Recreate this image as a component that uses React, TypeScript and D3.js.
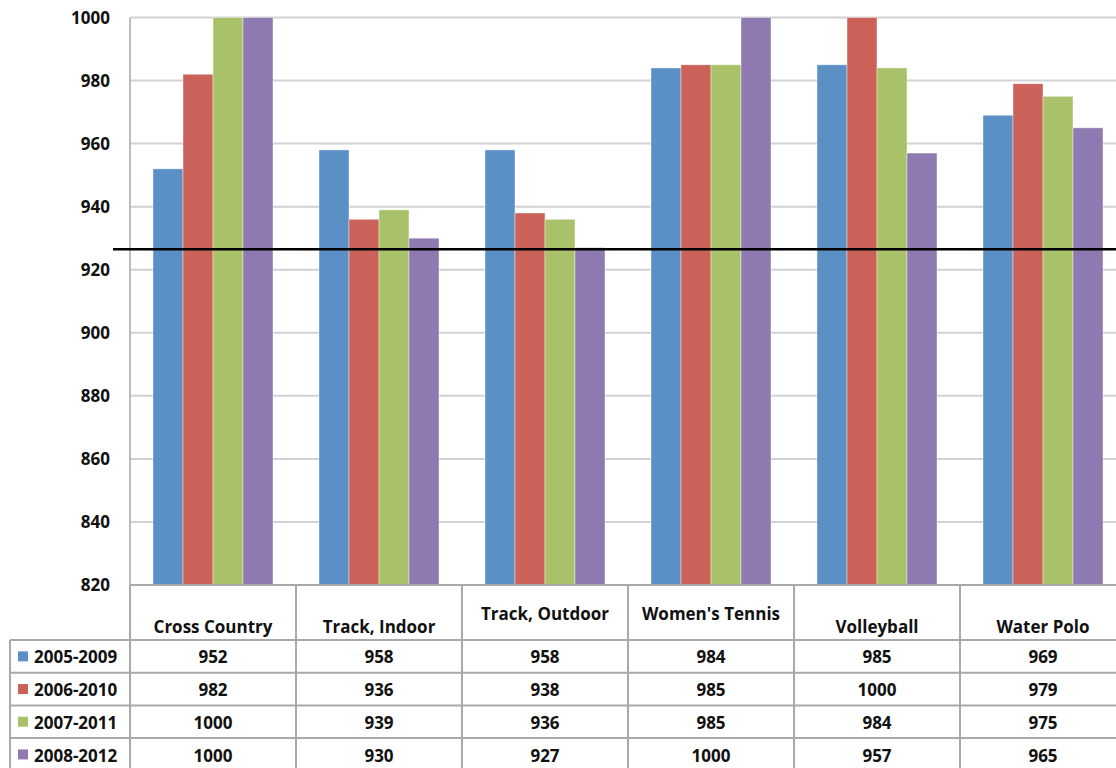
import React from "react";
import * as d3 from "d3";

const categories = ["Cross Country", "Track, Indoor", "Track, Outdoor", "Women's Tennis", "Volleyball", "Water Polo"];
const seriesNames = ["2005-2009", "2006-2010", "2007-2011", "2008-2012"];
const s2005 = [952, 958, 958, 984, 985, 969];
const s2006 = [982, 936, 938, 985, 1000, 979];
const s2007 = [1000, 939, 936, 985, 984, 975];
const s2008 = [1000, 930, 927, 1000, 957, 965];
const seriesValues = [s2005, s2006, s2007, s2008];
const yTicks = [820, 840, 860, 880, 900, 920, 940, 960, 980, 1000];
const thresholdValue = 926.5;
const colors = ["#5b90c6", "#cb6259", "#a9c26a", "#8e7ab1"];

const W = 1116;
const H = 768;
const FONT = "'Open Sans', sans-serif";
const FS = 17;

export default function App() {
  const plotLeft = 130;
  const plotTop = 17.5;
  const plotBottom = 585;
  const colW = 166;
  const y = d3.scaleLinear().domain([820, 1000]).range([plotBottom, plotTop]);
  const x = d3.scaleBand<string>().domain(categories).range([plotLeft, plotLeft + colW * categories.length]).paddingInner(0).paddingOuter(0);
  const xs = d3.scaleBand<string>().domain(seriesNames).range([0, x.bandwidth()]).paddingInner(0).paddingOuter(0.767);

  const headerBottom = 640;
  const rowH = 32.7;
  const legendLeft = 10;
  const raised = new Set(["Track, Outdoor", "Women's Tennis"]);
  const gridColor = "#d2d2d2";
  const tableColor = "#a9a9a9";

  return (
    <svg width={W} height={H} style={{ position: "absolute", left: 0, top: 0, background: "#fff" }} fontFamily={FONT}>
      {yTicks.map((t) => (
        <line key={t} x1={plotLeft} x2={W} y1={y(t)} y2={y(t)} stroke={gridColor} strokeWidth={2} />
      ))}
      <line x1={plotLeft} x2={plotLeft} y1={plotTop} y2={plotBottom} stroke={tableColor} strokeWidth={1.5} />
      {yTicks.map((t) => (
        <text key={t} x={110} y={y(t)} dy="0.36em" textAnchor="end" fontSize={FS} fontWeight={700} fill="#111">
          {t}
        </text>
      ))}
      {categories.map((c, ci) =>
        seriesNames.map((s, si) => {
          const v = seriesValues[si][ci];
          const bx = (x(c) ?? 0) + (xs(s) ?? 0);
          return (
            <rect key={c + s} x={bx} y={y(v)} width={xs.bandwidth()} height={plotBottom - y(v)} fill={colors[si]} stroke="rgba(255,255,255,0.5)" strokeWidth={0.8} />
          );
        })
      )}
      <line x1={113} x2={W} y1={y(thresholdValue)} y2={y(thresholdValue)} stroke="#000" strokeWidth={2.5} />

      <line x1={plotLeft} x2={W} y1={plotBottom} y2={plotBottom} stroke={tableColor} strokeWidth={2} />
      {categories.map((c) => (
        <line key={"v" + c} x1={(x(c) ?? 0) + colW} x2={(x(c) ?? 0) + colW} y1={plotBottom} y2={H} stroke={tableColor} strokeWidth={2} />
      ))}
      <line x1={plotLeft} x2={plotLeft} y1={plotBottom} y2={H} stroke={tableColor} strokeWidth={2} />
      <line x1={legendLeft} x2={legendLeft} y1={headerBottom} y2={H} stroke={tableColor} strokeWidth={2} />
      {seriesNames.map((s, i) => (
        <line key={"h" + s} x1={legendLeft} x2={W} y1={headerBottom + i * rowH} y2={headerBottom + i * rowH} stroke={tableColor} strokeWidth={2} />
      ))}
      {categories.map((c) => (
        <text key={"c" + c} x={(x(c) ?? 0) + colW / 2} y={raised.has(c) ? 614 : 627} dy="0.36em" textAnchor="middle" fontSize={FS} fontWeight={700} fill="#111">
          {c}
        </text>
      ))}
      {seriesNames.map((s, si) => {
        const cy = headerBottom + si * rowH + rowH / 2 + 1;
        return (
          <g key={"r" + s}>
            <rect x={18} y={cy - 6} width={10} height={10} fill={colors[si]} />
            <text x={34} y={cy} dy="0.36em" fontSize={FS} fontWeight={700} fill="#111">
              {s}
            </text>
            {categories.map((c, ci) => (
              <text key={c} x={(x(c) ?? 0) + colW / 2} y={cy} dy="0.36em" textAnchor="middle" fontSize={FS} fontWeight={700} fill="#111">
                {seriesValues[si][ci]}
              </text>
            ))}
          </g>
        );
      })}
    </svg>
  );
}
